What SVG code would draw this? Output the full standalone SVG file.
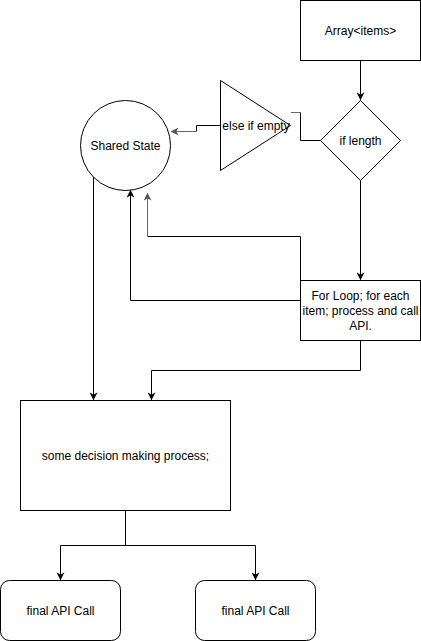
<svg xmlns="http://www.w3.org/2000/svg" width="421" height="641" viewBox="0 0 421 641">
<style>
.n{fill:#fff;stroke:#000;stroke-width:1}
.t{font-family:"Liberation Sans",Arial,sans-serif;font-size:12px;fill:#000;text-anchor:middle}
.c{fill:none;stroke:#000;stroke-width:1}
.g{fill:none;stroke:#666;stroke-width:1}
</style>
<defs>
<marker id="a" viewBox="0 0 10 10" refX="9" refY="5" markerWidth="8" markerHeight="8" markerUnits="userSpaceOnUse" orient="auto"><path d="M0,0 L10,5 L0,10 L3,5 Z" fill="#000"/></marker>
<marker id="ag" viewBox="0 0 10 10" refX="9" refY="5" markerWidth="8" markerHeight="8" markerUnits="userSpaceOnUse" orient="auto"><path d="M0,0 L10,5 L0,10 L3,5 Z" fill="#555"/></marker>
</defs>
<rect width="421" height="641" fill="#fff"/>
<g id="connectors">
<path class="c" d="M360.5,60.5 V99.5" marker-end="url(#a)"/>
<path class="c" d="M320.5,140.5 H300.5 V112.5"/>
<path class="g" d="M300.5,112.5 H291"/>
<path class="c" d="M220.5,125.5 H196.5 V131.5"/>
<path class="g" d="M196.5,131.5 H171.5" marker-end="url(#ag)"/>
<path class="c" d="M360.5,180.5 V279.5" marker-end="url(#a)"/>
<path class="c" d="M300.5,300.5 H130.5 V190.5" marker-end="url(#a)"/>
<path class="c" d="M300.5,280.5 V236.5 H147.5"/>
<path class="g" d="M147.5,236.5 V193.5" marker-end="url(#ag)"/>
<path class="c" d="M93.5,177 V399.5" marker-end="url(#a)"/>
<path class="c" d="M360.5,340.5 V370.5 H151.5 V399.5" marker-end="url(#a)"/>
<path class="c" d="M125.5,510.5 V545.5 H60.5 V579.5" marker-end="url(#a)"/>
<path class="c" d="M125.5,545.5 H255.5 V579.5" marker-end="url(#a)"/>
</g>
<g id="array">
<rect class="n" x="300.5" y="0.5" width="120" height="60"/>
<text class="t" x="360.5" y="34.5">Array&lt;items&gt;</text>
</g>
<g id="if-length">
<path class="n" d="M360.5,100.5 L400.5,140.5 L360.5,180.5 L320.5,140.5 Z"/>
<text class="t" x="360.5" y="144.5">if length</text>
</g>
<g id="else-if-empty">
<path class="n" d="M220.5,80.5 L290.5,125.5 L220.5,170.5 Z"/>
<text class="t" x="256" y="129.5">else if empty</text>
</g>
<g id="shared-state">
<circle class="n" cx="125.5" cy="145.5" r="45"/>
<text class="t" x="125.5" y="149.5">Shared State</text>
</g>
<g id="for-loop">
<rect class="n" x="300.5" y="280.5" width="120" height="60"/>
<text class="t" x="360.5" y="300">For Loop; for each</text>
<text class="t" x="360.5" y="315">item; process and call</text>
<text class="t" x="360.5" y="330">API.</text>
</g>
<g id="decision">
<rect class="n" x="20.5" y="400.5" width="210" height="110"/>
<text class="t" x="125.5" y="459.5">some decision making process;</text>
</g>
<g id="final-1">
<rect class="n" x="0.5" y="580.5" width="120" height="60" rx="9"/>
<text class="t" x="60.5" y="614.5">final API Call</text>
</g>
<g id="final-2">
<rect class="n" x="195.5" y="580.5" width="120" height="60" rx="9"/>
<text class="t" x="255.5" y="614.5">final API Call</text>
</g>
</svg>
